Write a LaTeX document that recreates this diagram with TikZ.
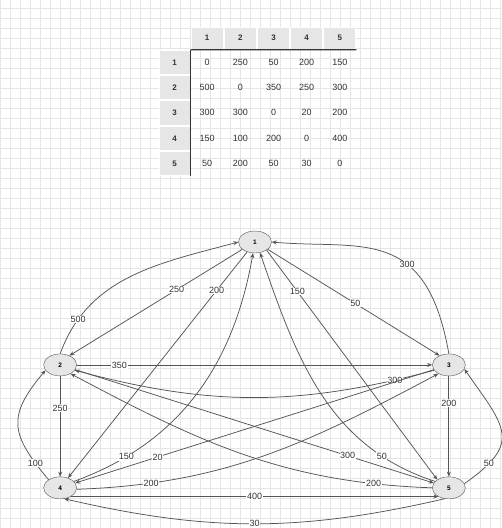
\documentclass[tikz,border=0pt]{standalone}
\usepackage{fontspec}
\setmainfont{Liberation Sans}
\usepackage{tikz}
\usetikzlibrary{positioning, shapes.geometric, arrows.meta, matrix}

\definecolor{cellgray}{HTML}{E6E6E6}
\definecolor{linegray}{HTML}{555555}
\definecolor{textgray}{HTML}{333333}
\definecolor{gridgray}{HTML}{E6E6E6}

\tikzset{
  vertex/.style={ellipse, on grid, draw=linegray, fill=cellgray, minimum width=33pt, minimum height=22pt, inner sep=0pt, font=\fontsize{6.5}{7}\selectfont\bfseries},
  wlabel/.style={fill=white, inner sep=0.6pt, text=textgray, font=\fontsize{9}{10}\selectfont},
  every edge/.append style={draw=linegray, line width=0.75pt},
}

\begin{document}
\begin{tikzpicture}[x=1pt, y=1pt, >={Stealth[length=5pt, width=4pt]}]

        \fill[white] (0,0) rectangle (501,528);
        \draw[gridgray, line width=0.4pt, step=10pt] (0,0) grid (501,528);
        \useasboundingbox (0,0) rectangle (501,528);

        % distance table
        \matrix (dist) [matrix of nodes, anchor=north west, row sep=0pt, column sep=0pt,
            nodes={minimum width=32.2pt, minimum height=24.3pt, inner sep=0pt, text=textgray, font=\fontsize{9}{10}\selectfont},
            row 1/.style={nodes={minimum height=22pt, fill=cellgray, draw=white, line width=1pt, font=\fontsize{8}{9}\selectfont\bfseries}},
            column 1/.style={nodes={minimum width=31pt, fill=cellgray, draw=white, line width=1pt, font=\fontsize{8}{9}\selectfont\bfseries}}]
        at (155,505) {
              & 1   & 2   & 3   & 4   & 5   \\
            1 & 0   & 250 & 50  & 200 & 150 \\
            2 & 500 & 0   & 350 & 250 & 300 \\
            3 & 300 & 300 & 0   & 20  & 200 \\
            4 & 150 & 100 & 200 & 0   & 400 \\
            5 & 50  & 200 & 50  & 30  & 0   \\
        };
        \draw[line width=1.3pt, textgray] (dist-1-2.south west) -- (dist-1-6.south east);
        \draw[line width=1.3pt, textgray] (dist-2-1.north east) -- (dist-6-1.south east);

        % graph
        \node[vertex] (n1) at (255,286) {1};
        \node[vertex] (n2) [below left=123pt and 195pt of n1] {2};
        \node[vertex] (n3) [right=389pt of n2] {3};
        \node[vertex] (n4) [below=123pt of n2] {4};
        \node[vertex] (n5) [right=389pt of n4] {5};

        \path[->]
        (n1.-150) edge node[wlabel, pos=0.38] {250} (n2.45)
        (n2.north) edge[out=70, in=195] node[wlabel, pos=0.17] {500} (n1.west)

        (n1.-30) edge node[wlabel, pos=0.51] {50} (n3.135)
        (n3.north) edge[out=100, in=-5, out looseness=1.6, in looseness=1.1] node[wlabel, pos=0.37] {300} (n1.east)

        (n1) edge node[wlabel, pos=0.17] {200} (n4)
        (n4.25) edge[out=20, in=-100] node[wlabel, pos=0.18] {150} (n1.260)

        (n1.-35) edge node[wlabel, pos=0.18] {150} (n5.145)
        (n5.155) edge[out=162, in=-71] node[wlabel, pos=0.19] {50} (n1.-65)

        (n2) edge node[wlabel, pos=0.12] {350} (n3)
        (n3.200) edge[out=195, in=-15] node[wlabel, pos=0.1] {300} (n2.-20)

        (n2) edge node[wlabel, pos=0.32] {250} (n4)
        (n4.145) edge[out=130, in=230, looseness=1.4] node[wlabel, pos=0.13] {100} (n2.200)

        (n2) edge node[wlabel, pos=0.76] {300} (n5)
        (n5.west) edge[out=178, in=-28] node[wlabel, pos=0.14] {200} (n2.-40)

        (n3) edge node[wlabel, pos=0.77] {20} (n4)
        (n4.-5) edge[out=2, in=208] node[wlabel, pos=0.18] {200} (n3.220)

        (n3) edge node[wlabel, pos=0.27] {200} (n5)
        (n5.15) edge[out=35, in=-55, looseness=1.6] node[wlabel, pos=0.18] {50} (n3.-15)

        (n4.-40) edge node[wlabel, pos=0.5] {400} (n5.220)
        (n5.-110) edge[out=193, in=-13] node[wlabel, pos=0.5] {30} (n4.-70);

\end{tikzpicture}
\end{document}
